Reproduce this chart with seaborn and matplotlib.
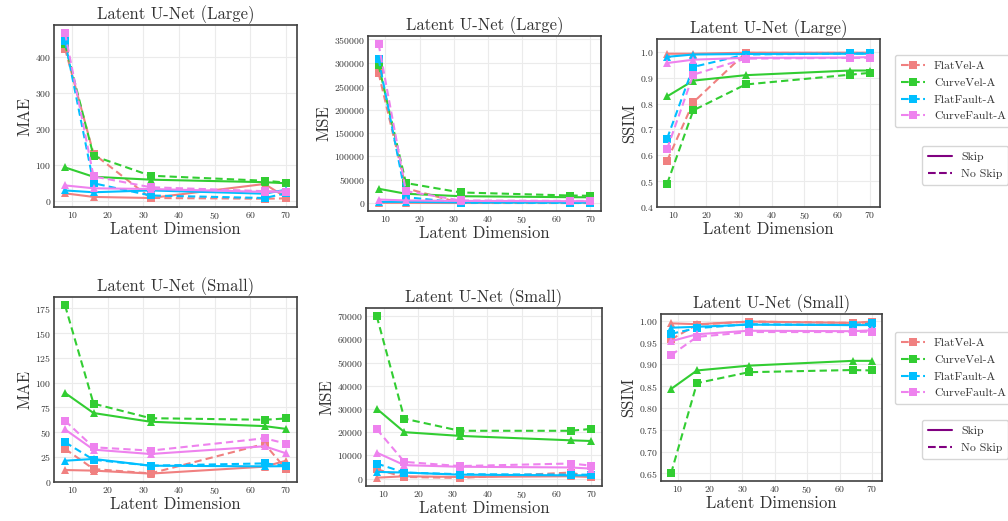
import numpy as np
import pandas as pd
import seaborn as sns
import matplotlib.pyplot as plt
from matplotlib.lines import Line2D

# Latent dimensions evaluated
latent_dims = [8, 16, 32, 64, 70]
datasets = ["FlatVel-A", "CurveVel-A", "FlatFault-A", "CurveFault-A"]
palette = ["#F08080", "#32CD32", "#00BFFF", "#EE82EE"]

# ---- Latent U-Net (Large) ----
large_mae_skip = {
    "FlatVel-A":    [20, 10, 7, 46, 9],
    "CurveVel-A":   [92, 66, 58, 51, 48],
    "FlatFault-A":  [28, 23, 28, 19, 30],
    "CurveFault-A": [42, 34, 32, 24, 25],
}
large_mae_noskip = {
    "FlatVel-A":    [422, 130, 7, 5, 6],
    "CurveVel-A":   [435, 124, 69, 55, 50],
    "FlatFault-A":  [443, 48, 14, 7, 20],
    "CurveFault-A": [465, 67, 37, 26, 25],
}
large_mse_skip = {
    "FlatVel-A":    [1000, 1000, 500, 3000, 1000],
    "CurveVel-A":   [31000, 20300, 15100, 13000, 12800],
    "FlatFault-A":  [3000, 3000, 1800, 1500, 1500],
    "CurveFault-A": [8000, 6000, 5000, 4500, 4500],
}
large_mse_noskip = {
    "FlatVel-A":    [278000, 32000, 600, 500, 500],
    "CurveVel-A":   [295000, 43200, 23100, 16600, 16000],
    "FlatFault-A":  [308000, 13000, 1500, 1000, 1000],
    "CurveFault-A": [340000, 26000, 6000, 5000, 5000],
}
large_ssim_skip = {
    "FlatVel-A":    [0.993, 0.993, 0.997, 0.997, 0.997],
    "CurveVel-A":   [0.828, 0.889, 0.910, 0.928, 0.928],
    "FlatFault-A":  [0.981, 0.990, 0.992, 0.993, 0.993],
    "CurveFault-A": [0.957, 0.970, 0.977, 0.978, 0.980],
}
large_ssim_noskip = {
    "FlatVel-A":    [0.579, 0.805, 0.996, 0.996, 0.996],
    "CurveVel-A":   [0.490, 0.774, 0.874, 0.912, 0.919],
    "FlatFault-A":  [0.665, 0.942, 0.990, 0.994, 0.994],
    "CurveFault-A": [0.625, 0.912, 0.974, 0.977, 0.977],
}

# ---- Latent U-Net (Small) ----
small_mae_skip = {
    "FlatVel-A":    [11.6, 11, 8, 15, 21],
    "CurveVel-A":   [89.5, 69.2, 60.4, 56, 53.2],
    "FlatFault-A":  [21, 22.8, 16, 15.3, 15.5],
    "CurveFault-A": [52.6, 32.2, 27.8, 35.6, 28.5],
}
small_mae_noskip = {
    "FlatVel-A":    [33, 12.6, 8.2, 38, 12.5],
    "CurveVel-A":   [178, 78.7, 64, 62.4, 63.7],
    "FlatFault-A":  [39.7, 22, 16, 18.3, 16],
    "CurveFault-A": [61.4, 34.6, 31.2, 43.7, 38.3],
}
small_mse_skip = {
    "FlatVel-A":    [400, 1000, 700, 1000, 700],
    "CurveVel-A":   [30100, 20000, 18400, 16500, 16200],
    "FlatFault-A":  [2900, 2600, 1700, 1400, 1400],
    "CurveFault-A": [11200, 5800, 5100, 4800, 4300],
}
small_mse_noskip = {
    "FlatVel-A":    [4000, 700, 300, 2600, 700],
    "CurveVel-A":   [70000, 25800, 20600, 20600, 21400],
    "FlatFault-A":  [6500, 2600, 1900, 1700, 1700],
    "CurveFault-A": [21300, 7200, 5400, 6500, 5600],
}
small_ssim_skip = {
    "FlatVel-A":    [0.994, 0.992, 0.998, 0.995, 0.998],
    "CurveVel-A":   [0.8435, 0.886, 0.897, 0.908, 0.908],
    "FlatFault-A":  [0.984, 0.986, 0.991, 0.990, 0.990],
    "CurveFault-A": [0.953, 0.969, 0.977, 0.976, 0.978],
}
small_ssim_noskip = {
    "FlatVel-A":    [0.957, 0.991, 0.998, 0.995, 0.996],
    "CurveVel-A":   [0.650, 0.857, 0.882, 0.887, 0.886],
    "FlatFault-A":  [0.970, 0.983, 0.992, 0.990, 0.994],
    "CurveFault-A": [0.921, 0.963, 0.974, 0.974, 0.975],
}


def to_frame(skip, noskip):
    rows = []
    for name in datasets:
        for d, v in zip(latent_dims, skip[name]):
            rows.append((d, v, name, "Skip"))
        for d, v in zip(latent_dims, noskip[name]):
            rows.append((d, v, name, "No Skip"))
    return pd.DataFrame(rows, columns=["dim", "value", "dataset", "variant"])


sns.set_style("whitegrid", {"axes.edgecolor": "0.25", "grid.color": "0.92"})
plt.rcParams["font.family"] = ["cmr10", "DejaVu Serif"]
plt.rcParams["axes.formatter.use_mathtext"] = True
plt.rcParams["text.color"] = "0.2"
plt.rcParams["axes.labelcolor"] = "0.2"
plt.rcParams["xtick.color"] = "0.2"
plt.rcParams["ytick.color"] = "0.2"

W, H = 1008, 521
fig = plt.figure(figsize=(W / 100, H / 100), dpi=100)


def px_axes(l, t, r, b):
    return fig.add_axes([l / W, 1 - b / H, (r - l) / W, (b - t) / H])


panels = [
    ((54, 25, 297, 207), "Latent U-Net (Large)", "MAE", large_mae_skip, large_mae_noskip, None),
    ((368, 36, 601, 211), "Latent U-Net (Large)", "MSE", large_mse_skip, large_mse_noskip, None),
    ((657, 39, 880, 207), "Latent U-Net (Large)", "SSIM", large_ssim_skip, large_ssim_noskip, (0.4, 1.05)),
    ((54, 297, 297, 482), "Latent U-Net (Small)", "MAE", small_mae_skip, small_mae_noskip, None),
    ((366, 308, 602, 486), "Latent U-Net (Small)", "MSE", small_mse_skip, small_mse_noskip, None),
    ((661, 314, 882, 481), "Latent U-Net (Small)", "SSIM", small_ssim_skip, small_ssim_noskip, None),
]

for (box, title, ylabel, skip, noskip, ylim) in panels:
    ax = px_axes(*box)
    df = to_frame(skip, noskip)
    sns.lineplot(
        data=df, x="dim", y="value", hue="dataset", style="variant",
        hue_order=datasets, style_order=["Skip", "No Skip"],
        palette=palette, markers={"Skip": "^", "No Skip": "s"},
        dashes={"Skip": "", "No Skip": (3.5, 2)},
        markersize=5.5, markeredgewidth=0, linewidth=1.5, ax=ax, legend=False,
    )
    ax.set_title(title, fontsize=12, pad=4)
    ax.set_xlabel("Latent Dimension", fontsize=12, labelpad=1)
    ax.set_ylabel(ylabel, fontsize=12, labelpad=2)
    ax.set_xticks([10, 20, 30, 40, 50, 60, 70])
    ax.tick_params(labelsize=7, pad=2, length=0)
    if ylim is not None:
        ax.set_ylim(*ylim)
    for s in ax.spines.values():
        s.set_linewidth(1.2)

# Legends beside the SSIM panels
data_handles = [
    Line2D([], [], color=c, linestyle="--", marker="s", markersize=6, markeredgewidth=0, linewidth=1.5)
    for c in palette
]
style_handles = [
    Line2D([], [], color="#800080", linestyle="-", linewidth=1.5),
    Line2D([], [], color="#800080", linestyle="--", linewidth=1.5),
]

legend_kw = dict(loc="upper left", fontsize=8.5, frameon=True, edgecolor="0.8",
                 borderpad=0.5, labelspacing=0.55, handlelength=2.0,
                 handletextpad=0.8, borderaxespad=0.0)
for top1, top2 in [(55, 146), (332, 420)]:
    fig.legend(data_handles, datasets, bbox_to_anchor=(895 / W, 1 - top1 / H), **legend_kw)
    fig.legend(style_handles, ["Skip", "No Skip"], bbox_to_anchor=(922 / W, 1 - top2 / H), **legend_kw)

fig.savefig("out.png", dpi=100)
